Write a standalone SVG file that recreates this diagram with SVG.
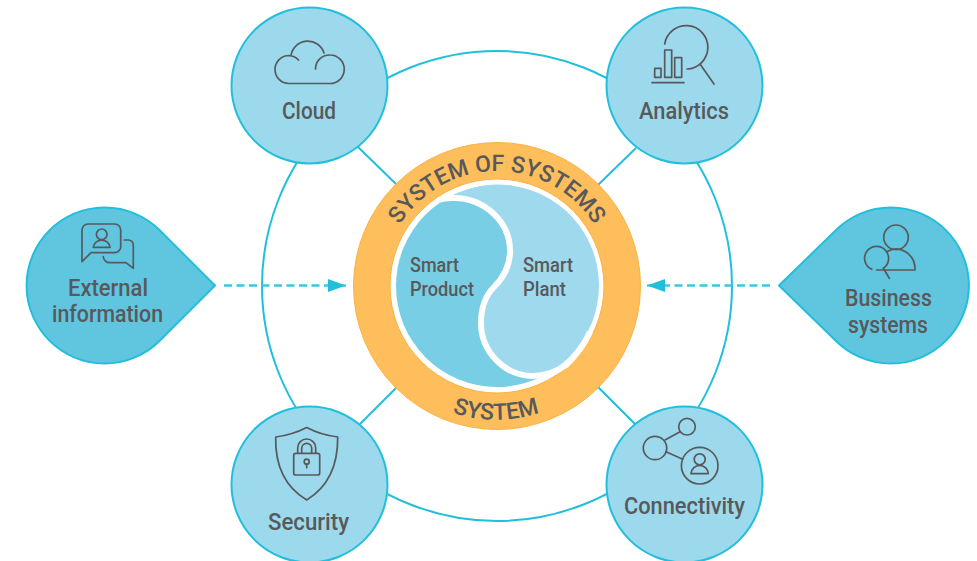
<svg xmlns="http://www.w3.org/2000/svg" width="977" height="561" viewBox="0 0 977 561">
<style>
.node{fill:#9DD9ED;stroke:#21BFDB;stroke-width:2}
.drop{fill:#60C6E0;stroke:#21BFDB;stroke-width:2;stroke-linejoin:round}
.link{fill:none;stroke:#21BFDB;stroke-width:2}
.dash{fill:none;stroke:#3CC6E0;stroke-width:2.400;stroke-dasharray:8 4.500}
.icon{fill:none;stroke:#58595B;stroke-width:1.700;stroke-linecap:round;stroke-linejoin:round}
text{font-family:"Roboto","Liberation Sans",sans-serif;font-weight:500;fill:#58595B}
.lbl{font-size:24px}
.in{font-size:21px}
.arc{font-size:23px}
</style>
<defs>
<marker id="ah" markerUnits="userSpaceOnUse" markerWidth="18" markerHeight="13" refX="18" refY="6.500" orient="auto"><path d="M0 0L18 6.500L0 13Z" fill="#21BFDB"/></marker>
<path id="arcTop" d="M382 286A115 115 0 0 1 612 286"/>
<path id="arcBot" d="M362 286A134 134 0 0 0 630 286"/>
</defs>
<g id="connectors">
<circle class="link" cx="497" cy="286" r="235"/>
<path class="link" d="M358 147L397 185M636 148L598 185M360 424L397 387M635 424L598 387"/>
<path class="dash" d="M224 285.500H330"/>
<path class="link" d="M330 285.500H346" marker-end="url(#ah)"/>
<path class="dash" d="M770 285.500H665"/>
<path class="link" d="M665 285.500H647" marker-end="url(#ah)"/>
</g>
<g id="center">
<circle cx="497" cy="286" r="143.500" fill="#FEBE5C" stroke="#FAB342" stroke-width="1"/>
<circle cx="497" cy="286" r="107" fill="#fff" stroke="#FAB342" stroke-width="1"/>
<circle cx="497" cy="286" r="101" fill="#78CFE5"/>
<path d="M452 195.600C482 196 510 220 510 251C510 268 502 279 494 287C487 294 481 306 481 323C481 352 505 376 535 379.500A101 101 0 1 0 452 195.600Z" fill="#9FD9ED"/>
<path d="M438 200C444 198 448 198 452 198C482 197 510 220 510 251C510 268 502 279 494 287C487 294 481 306 481 323C481 352 505 376 533 376C545 376 556 372 566 365A104.500 104.500 0 0 0 590 332" fill="none" stroke="#fff" stroke-width="6"/>
<text class="in" x="410" y="272" textLength="49" lengthAdjust="spacingAndGlyphs">Smart</text>
<text class="in" x="410" y="296" textLength="64" lengthAdjust="spacingAndGlyphs">Product</text>
<text class="in" x="523" y="272" textLength="50" lengthAdjust="spacingAndGlyphs">Smart</text>
<text class="in" x="523" y="296" textLength="43" lengthAdjust="spacingAndGlyphs">Plant</text>
<text class="arc"><textPath href="#arcTop" startOffset="50%" text-anchor="middle">SYSTEM OF SYSTEMS</textPath></text>
<text class="arc"><textPath href="#arcBot" startOffset="50%" text-anchor="middle">SYSTEM</textPath></text>
</g>
<g id="cloud">
<circle class="node" cx="309.500" cy="85.500" r="78"/>
<path class="icon" d="M298.500 60A14 14 0 0 0 289 55.500A14 14 0 0 0 289 83.500L330 83.500A14 14 0 0 0 330 55A14 14 0 0 0 315.500 69M291 55.500A17 17 0 0 1 324 53"/>
<text class="lbl" x="282" y="119" textLength="54" lengthAdjust="spacingAndGlyphs">Cloud</text>
</g>
<g id="analytics">
<circle class="node" cx="684.500" cy="85.500" r="78"/>
<path class="icon" d="M664.700 44A21.700 21.700 0 1 1 687 69M700.700 65L714 84M652 82.700H684"/>
<path class="icon" d="M654.700 68.300H661V77.300H654.700ZM664.700 50H671.700V77.300H664.700ZM674.700 57.700H681.700V77.300H674.700Z"/>
<text class="lbl" x="639" y="119" textLength="90" lengthAdjust="spacingAndGlyphs">Analytics</text>
</g>
<g id="external-information">
<path class="drop" d="M215 285.500L159.700 230.300A78 78 0 1 0 159.700 340.700Z"/>
<path class="icon" d="M82 261.700V230A6 6 0 0 1 88 224H114.700A6 6 0 0 1 120.700 230V246.700A6 6 0 0 1 114.700 252.700H91Z"/>
<path class="icon" d="M124.300 240H128.300A5 5 0 0 1 133.300 245V268.300L126 262.700H110A6.500 6.500 0 0 1 103.300 256.700"/>
<circle class="icon" cx="101.700" cy="234.300" r="5.300"/>
<path class="icon" d="M93.300 247.300A8.400 8 0 0 1 110 247.300Z"/>
<text class="lbl" x="68" y="296" textLength="80" lengthAdjust="spacingAndGlyphs">External</text>
<text class="lbl" x="52" y="322" textLength="111" lengthAdjust="spacingAndGlyphs">information</text>
</g>
<g id="business-systems">
<path class="drop" d="M779 285.500L835.800 230.300A78 78 0 1 1 835.800 340.700Z"/>
<circle class="icon" cx="896" cy="237.300" r="12.300"/>
<path class="icon" d="M871.700 269.300A12 12 0 1 1 883.300 268.300L889.300 278.300"/>
<path class="icon" d="M886.700 251.700A19 20 0 0 1 915 270H876.700"/>
<text class="lbl" x="845" y="306" textLength="87" lengthAdjust="spacingAndGlyphs">Business</text>
<text class="lbl" x="848" y="333" textLength="80" lengthAdjust="spacingAndGlyphs">systems</text>
</g>
<g id="security">
<circle class="node" cx="309.500" cy="484.500" r="78"/>
<path class="icon" d="M306.700 427.500Q292 435 275.700 437C275 465 285 487 306.700 500C328 487 338 465 337.700 437Q321 435 306.700 427.500Z"/>
<rect class="icon" x="293.700" y="453.300" width="26" height="21.700" rx="2"/>
<path class="icon" d="M297.700 453V448A9 9 0 0 1 315.700 448V453M301.700 453V448.300A5 5 0 0 1 311.700 448.300V453"/>
<circle class="icon" cx="306.700" cy="461.700" r="2.500"/>
<path class="icon" d="M306.700 464.200V467.700"/>
<text class="lbl" x="268" y="530" textLength="81" lengthAdjust="spacingAndGlyphs">Security</text>
</g>
<g id="connectivity">
<circle class="node" cx="684.500" cy="484.500" r="78"/>
<circle class="icon" cx="687" cy="426.700" r="8.300"/>
<circle class="icon" cx="655" cy="448" r="11.700"/>
<circle class="icon" cx="699.700" cy="465.700" r="18.300"/>
<path class="icon" d="M665 440L680 431.700M666 451.700L682.700 459.300"/>
<circle class="icon" cx="699.700" cy="459.300" r="5.500"/>
<path class="icon" d="M691 473.700A8.700 9.400 0 0 1 708.300 473.700Z"/>
<text class="lbl" x="624" y="514" textLength="121" lengthAdjust="spacingAndGlyphs">Connectivity</text>
</g>
</svg>
